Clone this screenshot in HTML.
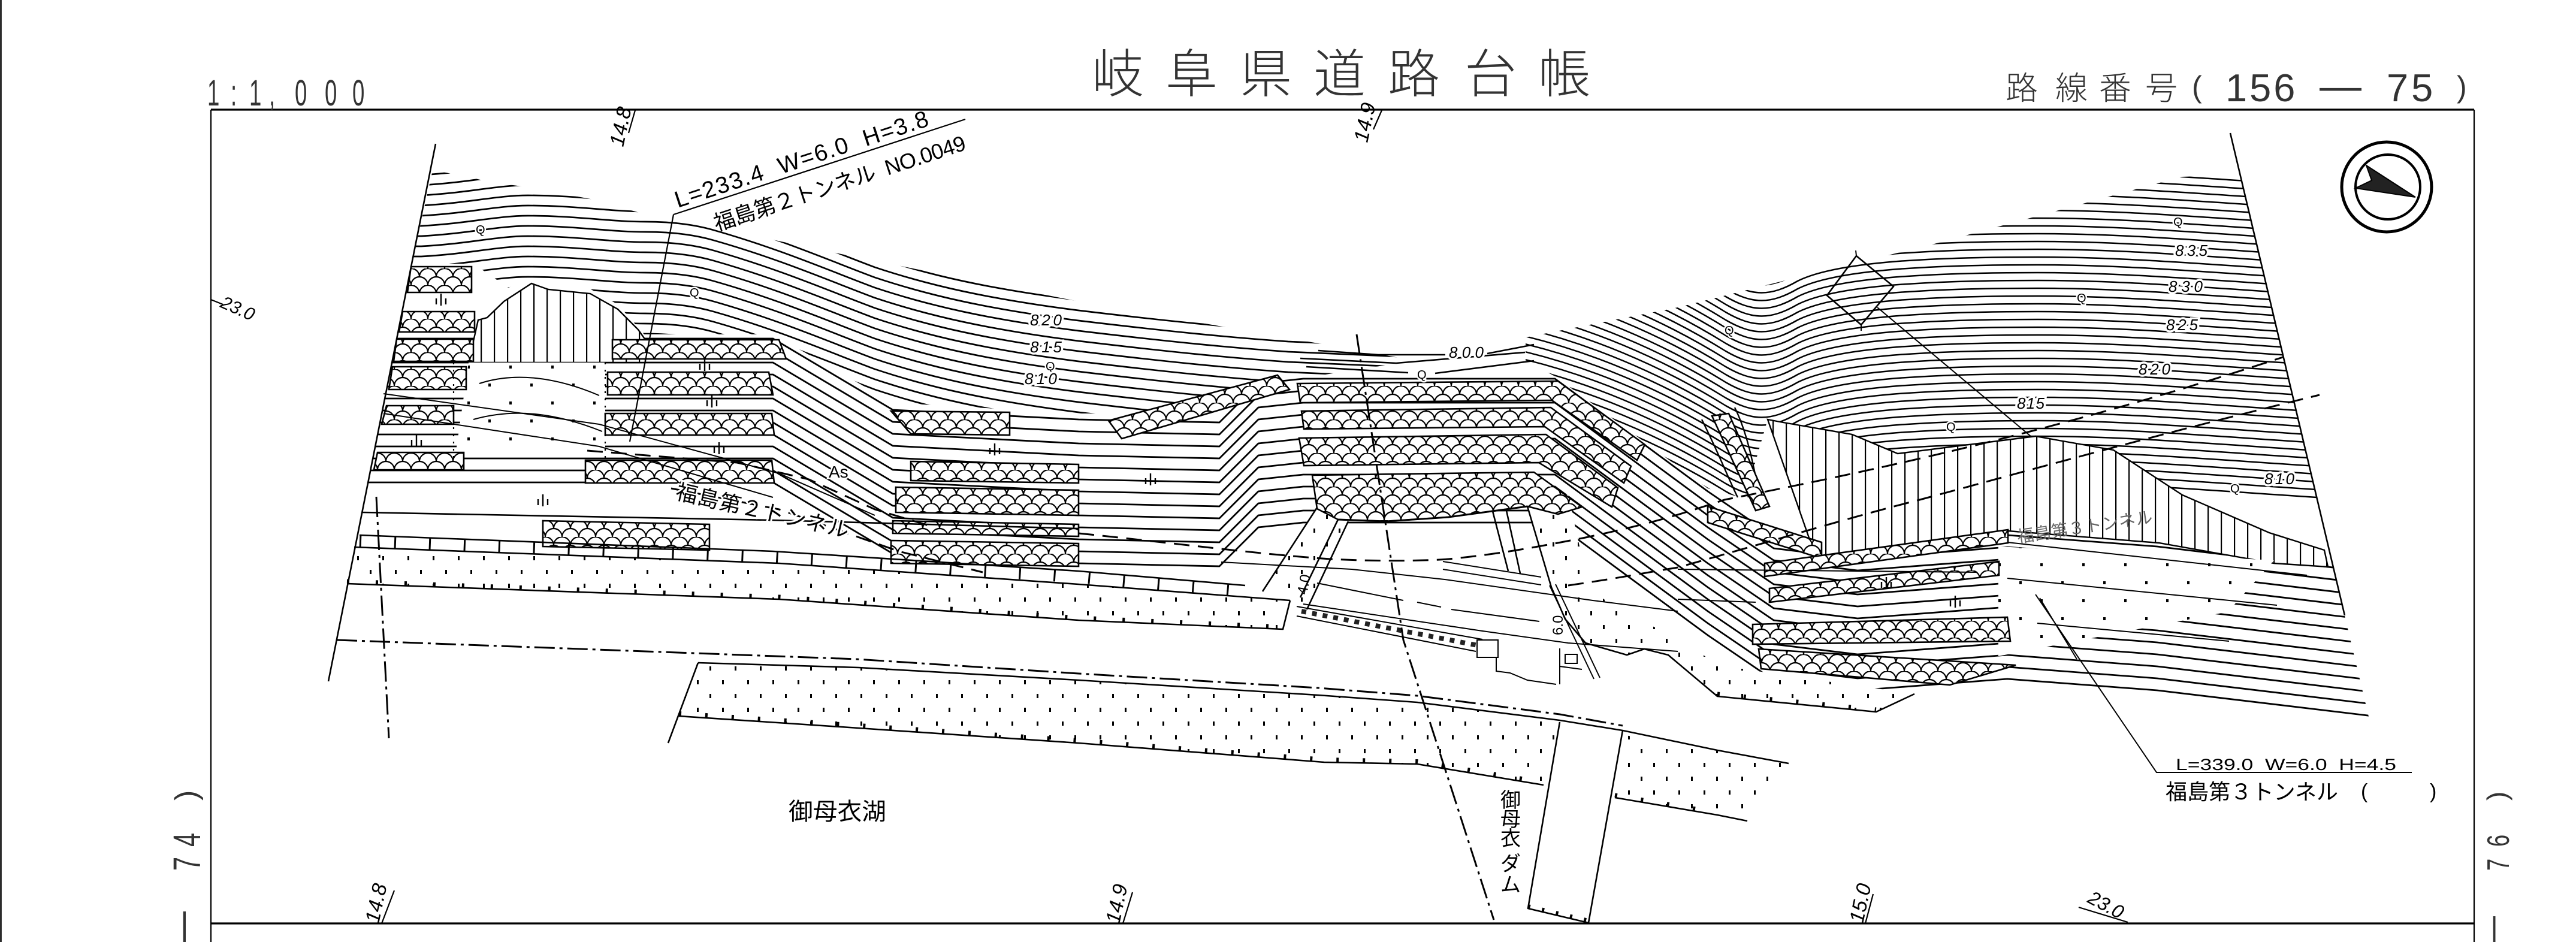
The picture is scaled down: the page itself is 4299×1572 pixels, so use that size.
<!DOCTYPE html>
<html><head><meta charset="utf-8"><title>岐阜県道路台帳</title>
<style>
html,body{margin:0;padding:0;background:#fff;width:4299px;height:1572px;overflow:hidden}
svg{display:block}
text{white-space:pre}
</style></head><body>
<svg xmlns="http://www.w3.org/2000/svg" width="4299" height="1572" viewBox="0 0 4299 1572" font-family="'Liberation Sans','Noto Sans CJK JP',sans-serif" xml:space="preserve">
<defs>
<pattern id="sc" width="28" height="28" patternUnits="userSpaceOnUse">
<rect width="28" height="28" fill="#fff"/>
<path d="M0,14 A14,14 0 0 1 28,14 M-14,28 A14,14 0 0 1 14,28 M14,28 A14,14 0 0 1 42,28" fill="none" stroke="#000" stroke-width="2.2"/>
</pattern>
<pattern id="dt" width="42" height="46" patternUnits="userSpaceOnUse">
<rect width="42" height="46" fill="#fff"/>
<rect x="8" y="8" width="3" height="7" fill="#000"/>
<rect x="29" y="31" width="3" height="7" fill="#000"/>
</pattern>
<pattern id="dt2" width="70" height="60" patternUnits="userSpaceOnUse">
<rect width="70" height="60" fill="#fff"/>
<rect x="10" y="10" width="4" height="5" fill="#000"/>
<rect x="45" y="40" width="4" height="5" fill="#000"/>
</pattern>
<pattern id="vh" width="22" height="40" patternUnits="userSpaceOnUse">
<rect width="22" height="40" fill="#fff"/>
<rect x="10" y="0" width="2.2" height="40" fill="#000"/>
</pattern>
<path id="tl" fill="none" stroke="#000" stroke-width="2.7" d="M600 292 L703 292 C780 288 830 275 881 275 C960 275 1020 285 1077 285 C1120 285 1160 290 1191 299 C1300 330 1380 365 1460 395 C1550 425 1650 448 1800 467 C1950 485 2050 495 2150 502 L2450 515"/>
<path id="tr" fill="none" stroke="#000" stroke-width="2.5" d="M2380 570 L2500 590 C2650 620 2780 680 2880 742 C2925 768 2955 768 3000 742 C3060 712 3200 702 3400 702 C3560 702 3700 716 3960 732 L4200 745"/>
<path id="tp" fill="none" stroke="#000" stroke-width="2.8" d="M560 565 L1290 565 L1490 684 L1800 700 L2035 705 L2100 640 L2175 632 L2595 632 L2850 820 L2960 895 L3100 912 L3350 893 L3600 912 L3960 955"/>
<path id="ym" fill="none" stroke="#000" stroke-width="2.4" d="M-8 0v-10M0 2v-20M8 0v-10"/>
<clipPath id="ctl"><polygon points="722,284 749,289 781,295 818,304 879,312 985,332 1071,356 1174,376 1433,430 1800,503 2200,573 2335,597 2335,606 2140,636 2030,690 1800,690 1490,672 1290,558 1075,558 1031,508 981,480 915,475 885,468 848,480 790,440 687,440"/></clipPath>
<clipPath id="ctr"><polygon points="2546,563 2800,513 3007,461 3228,407 3443,349 3641,295 3739,292 3887,918 3879,918 3787,889 3642,826 3527,751 3397,728 3167,757 3091,725 2976,705 2950,700 2912,832 2850,815 2595,628 2546,602"/></clipPath>
<clipPath id="ctp"><polygon points="667,540 3797,540 3954,1200 535,1200"/></clipPath>
</defs>

<!-- page border and frame -->
<g fill="none" stroke="#000">
<line x1="1.5" y1="0" x2="1.5" y2="1572" stroke-width="2.5"/>
<line x1="352" y1="183" x2="4129" y2="183" stroke-width="3.2"/>
<line x1="352" y1="183" x2="352" y2="1572" stroke-width="2.2"/>
<line x1="4129" y1="183" x2="4129" y2="1572" stroke-width="2.2"/>
<line x1="352" y1="1541" x2="4129" y2="1541" stroke-width="3.2"/>
</g>

<!-- contour families -->
<g clip-path="url(#ctl)">
<use href="#tl"/><use href="#tl" y="17"/><use href="#tl" y="34"/><use href="#tl" y="51"/><use href="#tl" y="68"/><use href="#tl" y="85"/><use href="#tl" y="102"/><use href="#tl" y="119"/><use href="#tl" y="136"/><use href="#tl" y="153"/><use href="#tl" y="170"/><use href="#tl" y="187"/><use href="#tl" y="204"/><use href="#tl" y="221"/><use href="#tl" y="238"/><use href="#tl" y="255"/><use href="#tl" y="272"/><use href="#tl" y="289"/><use href="#tl" y="306"/><use href="#tl" y="323"/>
</g>
<g clip-path="url(#ctr)">
<use href="#tr" y="104"/><use href="#tr" y="91"/><use href="#tr" y="78"/><use href="#tr" y="65"/><use href="#tr" y="52"/><use href="#tr" y="39"/><use href="#tr" y="26"/><use href="#tr" y="13"/><use href="#tr"/><use href="#tr" y="-13"/><use href="#tr" y="-26"/><use href="#tr" y="-39"/><use href="#tr" y="-52"/><use href="#tr" y="-65"/><use href="#tr" y="-78"/><use href="#tr" y="-91"/><use href="#tr" y="-104"/><use href="#tr" y="-117"/><use href="#tr" y="-130"/><use href="#tr" y="-143"/><use href="#tr" y="-156"/><use href="#tr" y="-169"/><use href="#tr" y="-182"/><use href="#tr" y="-195"/><use href="#tr" y="-208"/><use href="#tr" y="-221"/><use href="#tr" y="-234"/><use href="#tr" y="-247"/><use href="#tr" y="-260"/><use href="#tr" y="-273"/><use href="#tr" y="-286"/><use href="#tr" y="-299"/><use href="#tr" y="-312"/><use href="#tr" y="-325"/><use href="#tr" y="-338"/><use href="#tr" y="-351"/><use href="#tr" y="-364"/><use href="#tr" y="-377"/><use href="#tr" y="-390"/><use href="#tr" y="-403"/><use href="#tr" y="-416"/><use href="#tr" y="-429"/>
</g>
<g clip-path="url(#ctp)">
<use href="#tp"/><use href="#tp" y="20"/><use href="#tp" y="40"/><use href="#tp" y="60"/><use href="#tp" y="80"/><use href="#tp" y="100"/><use href="#tp" y="120"/><use href="#tp" y="140"/><use href="#tp" y="160"/><use href="#tp" y="180"/><use href="#tp" y="200"/><use href="#tp" y="220"/><use href="#tp" y="240"/>
</g>

<!-- gully (valley) lines -->
<g fill="none" stroke="#000" stroke-width="2.4">
<path d="M2870 690 C2895 740 2905 790 2918 830"/>
<path d="M2895 680 C2915 720 2925 770 2935 820"/>
<path d="M2840 700 C2870 760 2885 800 2900 830"/>
</g>

<!-- extra contours between groups -->
<g fill="none" stroke="#000" stroke-width="2.6">
<path d="M2200 585 L2300 592 L2412 592 M2482 590 L2560 575"/>
<path d="M2180 612 L2350 622 M2395 623 L2560 602"/>
<path d="M2170 598 L2330 606 L2545 588"/>
</g>

<!-- vertical hatch -->
<g stroke="#000" stroke-width="2.4" fill="url(#vh)">
<polygon points="798,534 813,530 841,503 887,473 915,483 985,490 1031,516 1065,550 1077,567 1077,605 782,605"/>
<polygon points="2950,700 2976,705 3091,725 3167,757 3397,728 3527,751 3642,826 3787,889 3879,918 3885,946 3795,940 3603,906 3351,886 3167,912 3030,929"/>
</g>

<!-- dotted regions -->
<g fill="url(#dt)" stroke="none">
<polygon points="591,913 1300,940 1800,975 2153,1002 2141,1050 1800,1035 1300,1000 579,974"/>
<polygon points="2198,847 2250,870 2181,1017 2107,987"/>
<polygon points="1165,1106 1433,1114 1800,1135 2200,1160 2365,1172 2603,1202 2576,1310 2365,1275 2210,1272 1800,1240 1433,1215 1133,1195"/>
<polygon points="2712,1227 2866,1252 2985,1274 2940,1340 2916,1370 2866,1360 2695,1331"/>
<polygon points="2549,845 2617,825 2640,930 2655,985 2720,1030 2800,1062 2866,1110 3000,1130 3195,1158 3131,1188 2866,1162 2784,1093 2744,1083 2715,1093 2646,1073 2612,1033 2589,980"/>
</g>
<g fill="url(#dt2)" stroke="none">
<polygon points="782,605 1010,605 1010,760 760,760"/>
<polygon points="3335,912 3795,935 3718,1021 3335,1095"/>
</g>

<!-- fish-scale bands -->
<g fill="url(#sc)" stroke="#000" stroke-width="2.6">
<polygon points="686,445 787,445 787,488 680,488"/>
<polygon points="672,520 792,520 792,554 666,554"/>
<polygon points="662,566 790,566 790,603 657,603"/>
<polygon points="655,612 778,612 778,650 649,650"/>
<polygon points="645,677 757,677 757,708 637,708"/>
<polygon points="630,755 774,755 774,784 624,784"/>
<polygon points="1022,567 1300,567 1312,599 1022,599"/>
<polygon points="1014,621 1283,621 1290,659 1014,659"/>
<polygon points="1010,690 1288,690 1292,726 1010,726"/>
<polygon points="977,768 1288,768 1292,806 977,806"/>
<polygon points="906,869 1184,875 1184,918 906,912"/>
<polygon points="1487,686 1685,688 1685,726 1520,724"/>
<polygon points="1520,770 1800,775 1800,806 1520,802"/>
<polygon points="1495,813 1800,818 1800,860 1495,855"/>
<polygon points="1490,869 1800,875 1800,895 1490,890"/>
<polygon points="1487,902 1800,907 1800,945 1487,940"/>
<polygon points="1850,702 2132,626 2152,650 1872,732"/>
<polygon points="2165,640 2600,636 2745,742 2732,768 2590,668 2170,672"/>
<polygon points="2172,686 2588,680 2722,778 2710,806 2578,712 2176,716"/>
<polygon points="2168,731 2580,725 2700,814 2690,846 2568,772 2176,777"/>
<polygon points="2190,793 2560,788 2640,846 2600,858 2549,845 2417,863 2313,870 2233,867 2198,849"/>
<polygon points="2857,694 2885,690 2953,845 2930,852"/>
<polygon points="2850,845 3040,905 3040,932 2850,872"/>
<polygon points="2945,940 3351,884 3351,906 2945,962"/>
<polygon points="2953,982 3336,937 3336,960 2953,1005"/>
<polygon points="2925,1042 3350,1030 3355,1070 2925,1075"/>
<polygon points="2935,1083 3364,1110 3254,1143 2939,1116"/>
</g>

<!-- structural lines -->
<g fill="none" stroke="#000" stroke-width="2.6" stroke-linejoin="round">
<line x1="727" y1="240" x2="548" y2="1137"/>
<line x1="3722" y1="222" x2="3913" y2="1027"/>
<path d="M604 855 L1290 868 L1800 882"/>
<path d="M600 893 L1290 920 L1800 953 L2078 977"/>
<path d="M591 913 L1300 940 L1800 975 L2153 1002"/>
<path d="M579 974 L1300 1000 L1800 1035 L2141 1050 L2153 1002"/>
<path d="M2198 847 L2107 987 M2233 867 L2170 997 M2250 870 L2181 1017"/>
<path d="M2233 867 L2313 870 L2417 863 L2549 845" stroke-width="3"/>
<path d="M2491 853 L2517 953 M2514 852 L2537 957 M2549 845 L2589 980 L2612 1033 L2646 1073 L2715 1093 L2744 1083 L2784 1093 L2866 1162 L3131 1188 L3195 1158"/>
<path d="M1165 1106 L1433 1114 L1800 1135 L2200 1160 L2365 1172 L2603 1202 L2708 1219 L2866 1252 L2985 1274"/>
<path d="M1165 1106 L1115 1240"/>
<path d="M1133 1195 L1433 1215 L1800 1240 L2210 1272 L2365 1275 L2576 1310"/>
<path d="M2695 1331 L2866 1360 L2916 1370"/>
<path d="M2603 1205 L2550 1516 L2651 1540 M2708 1219 L2651 1540"/>
</g>
<!-- tick symbols -->
<g fill="none" stroke="#000">
<path d="M600 903 L1290 930 L1800 963 L2078 987" stroke-width="20" stroke-dasharray="3 55"/>
<path d="M1133 1191 L1433 1211 L1800 1236 L2210 1268 L2365 1271 L2576 1306" stroke-width="8" stroke-dasharray="4 40"/>
<path d="M579 970 L1300 996 L1800 1031 L2141 1046" stroke-width="7" stroke-dasharray="4 44"/>
<path d="M2866 1158 L3131 1184" stroke-width="7" stroke-dasharray="4 40"/>
<path d="M2695 1327 L2866 1356" stroke-width="7" stroke-dasharray="4 40"/>
<path d="M2550 1512 L2651 1536" stroke-width="6" stroke-dasharray="4 20"/>
</g>

<!-- dam / bridge details -->
<g fill="none" stroke="#000" stroke-width="2">
<path d="M2164 1012 L2474 1067 M2164 1028 L2463 1087"/>
<path d="M2172 1020 L2466 1077" stroke="#222" stroke-width="8" stroke-dasharray="8 10"/>
<rect x="2465" y="1068" width="35" height="29"/>
<rect x="2612" y="1092" width="20" height="15"/>
<path d="M2497 1097 L2497 1120 L2520 1123 L2549 1135 L2597 1142 M2603 1082 L2603 1142 M2603 1112 L2640 1117"/>
<path d="M2586 977 L2660 1133 M2596 975 L2670 1131"/>
<path d="M2038 938 L2256 950 L2411 967 L2658 1002 L2800 1020"/>
<path d="M2198 973 L2342 1002 M2365 1005 L2405 1013 M2422 1017 L2569 1037"/>
<path d="M2175 1008 L2474 1053 L2617 1073 L2800 1087"/>
<path d="M2408 937 L2572 963 M2408 950 L2572 976"/>
<path d="M2800 950 L3300 955 M3350 905 L3850 960 M3350 965 L3800 1010 M3400 1040 L3720 1070 M2800 1000 L2930 1005"/>
<path d="M3098 427 L3160 478 L3106 542 L3049 493 Z" stroke-width="2.6"/>
<path d="M3133 513 L3389 728 M3098 427 L3097 418 M3106 542 L3106 552"/>
<path d="M3397 992 L3599 1289 L4025 1289 M3404 998 L3466 1100"/>
<path d="M1124 358 L1611 199 M1124 358 L1051 737" stroke-width="2.2"/>
<path d="M640 657 L1000 708 L1300 790 L1460 860 M640 690 L1000 745 L1290 830"/>
<path d="M800 640 C860 620 930 630 1000 660 M790 700 C860 680 930 690 1005 720"/>
</g>
<g fill="none" stroke="#000" stroke-width="2.2" stroke-dasharray="3 9">
<path d="M757 605 L757 766 M1010 605 L1010 766"/>
</g>
<!-- dashed tunnel lines -->
<g fill="none" stroke="#000" stroke-width="3" stroke-dasharray="26 14">
<path d="M1800 890 C1950 905 2100 925 2221 933 C2300 937 2380 936 2417 933 C2500 925 2570 912 2646 897 C2750 875 2800 860 2878 834 C3100 790 3400 730 3810 596"/>
<path d="M2617 977 C2700 965 2750 955 2800 947 C2950 905 3100 860 3200 835 C3350 795 3565 734 3871 659"/>
<path d="M980 752 L1230 772 L1350 800 L1460 850 L1560 880"/>
<path d="M1120 815 L1300 850 L1500 920 L1640 955"/>
</g>
<!-- dash-dot lines -->
<g fill="none" stroke="#000" stroke-width="3" stroke-dasharray="34 8 5 8">
<path d="M562 1068 L1430 1100 L1800 1124 L2200 1148 L2365 1161 L2603 1192 L2708 1211"/>
<path d="M628 829 L649 1232"/>
<path d="M2264 558 L2342 1068 L2493 1535"/>
</g>

<!-- symbols -->
<g>
<use href="#ym" x="736" y="508"/><use href="#ym" x="1176" y="617"/><use href="#ym" x="1188" y="678"/><use href="#ym" x="695" y="744"/><use href="#ym" x="1200" y="756"/><use href="#ym" x="906" y="843"/><use href="#ym" x="1660" y="758"/><use href="#ym" x="1920" y="808"/><use href="#ym" x="3148" y="981"/><use href="#ym" x="3263" y="1012"/>
</g>
<g font-size="20" fill="#000" stroke="#fff" stroke-width="5" paint-order="stroke">
<text x="794" y="390">Q</text><text x="1151" y="495">Q</text><text x="2365" y="632">Q</text><text x="2878" y="558">Q</text><text x="3466" y="504">Q</text><text x="3627" y="377">Q</text><text x="3248" y="719">Q</text><text x="3722" y="822">Q</text><text x="1745" y="618">Q</text>
</g>

<!-- north arrow -->
<g fill="none" stroke="#000">
<circle cx="3983" cy="312" r="75" stroke-width="5"/>
<circle cx="3985" cy="312" r="54" stroke-width="4"/>
<polygon points="3949,276 4031,329 3931,314 3958,301" fill="#222" stroke-width="2"/>
</g>

<!-- station ticks -->
<g stroke="#000" stroke-width="2.2" fill="none">
<path d="M1060 184 L1049 222 M2306 184 L2292 216 M658 1486 L637 1541 M1890 1489 L1874 1541 M3126 1492 L3113 1541 M3469 1514 L3551 1539 M352 500 L372 508"/>
</g>

<!-- header texts -->
<g fill="#333">
<g font-size="61">
<text transform="translate(346,176) scale(0.6,1)">1</text>
<text transform="translate(385,176) scale(0.6,1)">:</text>
<text transform="translate(416,176) scale(0.6,1)">1</text>
<text transform="translate(449,176) scale(0.6,1)">,</text>
<text transform="translate(492,176) scale(0.6,1)">0</text>
<text transform="translate(542,176) scale(0.6,1)">0</text>
<text transform="translate(588,176) scale(0.6,1)">0</text>
</g>
<g font-size="87" font-weight="300" fill="#333">
<text x="1822" y="154">岐</text><text x="1945" y="154">阜</text><text x="2069" y="154">県</text><text x="2192" y="154">道</text><text x="2316" y="154">路</text><text x="2444" y="154">台</text><text x="2567" y="154">帳</text>
</g>
<g font-size="54" font-weight="300">
<text x="3347" y="166">路</text><text x="3430" y="166">線</text><text x="3503" y="166">番</text><text x="3580" y="166">号</text>
</g>
<text x="3658" y="162" font-size="50">(</text>
<text x="3714" y="169" font-size="65" letter-spacing="4">156</text>
<text x="3871" y="167" font-size="70">—</text>
<text x="3983" y="169" font-size="65" letter-spacing="5">75</text>
<text x="4100" y="162" font-size="50">)</text>
</g>

<!-- side continuation labels -->
<g fill="#333">
<text font-size="52" transform="translate(328,1336) rotate(-90)">)</text>
<text font-size="64" transform="translate(334,1413) rotate(-90) scale(0.65,1)">4</text>
<text font-size="64" transform="translate(334,1453) rotate(-90) scale(0.65,1)">7</text>
<text font-size="64" transform="translate(324,1585) rotate(-90)">—</text>
<text font-size="46" transform="translate(4183,1336) rotate(-90)">)</text>
<text font-size="52" transform="translate(4187,1413) rotate(-90) scale(0.7,1)">6</text>
<text font-size="52" transform="translate(4187,1453) rotate(-90) scale(0.7,1)">7</text>
<text font-size="56" transform="translate(4177,1585) rotate(-90)">—</text>
</g>

<!-- station labels -->
<g font-size="34" font-style="italic" fill="#000">
<text transform="translate(1040,246) rotate(-78)">14.8</text>
<text transform="translate(2282,239) rotate(-78)">14.9</text>
<text transform="translate(632,1542) rotate(-78)">14.8</text>
<text transform="translate(1868,1543) rotate(-78)">14.9</text>
<text transform="translate(3109,1542) rotate(-78)">15.0</text>
<text transform="translate(3482,1505) rotate(28)" font-size="32">23.0</text>
<text transform="translate(366,512) rotate(24)" font-size="30">23.0</text>
</g>

<!-- contour labels -->
<g font-size="26" font-style="italic" fill="#000" stroke="#fff" stroke-width="7" paint-order="stroke">
<text x="1719" y="543" textLength="53">820</text>
<text x="1719" y="588" textLength="53">815</text>
<text x="1710" y="641" textLength="54">810</text>
<text x="2418" y="597" textLength="58">800</text>
<text x="3630" y="427" textLength="54">835</text>
<text x="3619" y="487" textLength="57">830</text>
<text x="3615" y="551" textLength="53">825</text>
<text x="3569" y="625" textLength="53">820</text>
<text x="3366" y="682" textLength="46">815</text>
<text x="3779" y="808" textLength="50">810</text>
</g>

<!-- tunnel labels -->
<g fill="#000">
<text transform="translate(1131,347) rotate(-18.1)" font-size="39" textLength="443" lengthAdjust="spacing">L=233.4  W=6.0  H=3.8</text>
<text transform="translate(1196,386) rotate(-18.1)" font-size="36" textLength="440" lengthAdjust="spacing">福島第２トンネル  NO.0049</text>
<text transform="translate(1126,832) rotate(12.9)" font-size="36" textLength="295" lengthAdjust="spacing" stroke="#fff" stroke-width="6" paint-order="stroke">福島第２トンネル</text>
<text x="1383" y="797" font-size="28" stroke="#fff" stroke-width="5" paint-order="stroke">As</text>
<text transform="translate(3368,906) rotate(-8.6)" font-size="28" fill="#666" textLength="228" lengthAdjust="spacing">福島第３トンネル</text>
<text x="3631" y="1285" font-size="27" textLength="368" lengthAdjust="spacingAndGlyphs">L=339.0  W=6.0  H=4.5</text>
<text x="3614" y="1334" font-size="36" textLength="288" lengthAdjust="spacingAndGlyphs">福島第３トンネル</text>
<text x="3940" y="1332" font-size="34">(</text>
<text x="4055" y="1332" font-size="34">)</text>
<text x="1316" y="1368" font-size="40" textLength="163" lengthAdjust="spacingAndGlyphs">御母衣湖</text>
<g font-size="34">
<text x="2504" y="1347">御</text><text x="2504" y="1379">母</text><text x="2504" y="1411">衣</text><text x="2504" y="1453">ダ</text><text x="2504" y="1488">ム</text>
</g>
<text transform="translate(2181,993) rotate(-80)" font-size="24">4.0</text>
<text transform="translate(2608,1060) rotate(-90)" font-size="24">6.0</text>
</g>
</svg>
</body></html>
